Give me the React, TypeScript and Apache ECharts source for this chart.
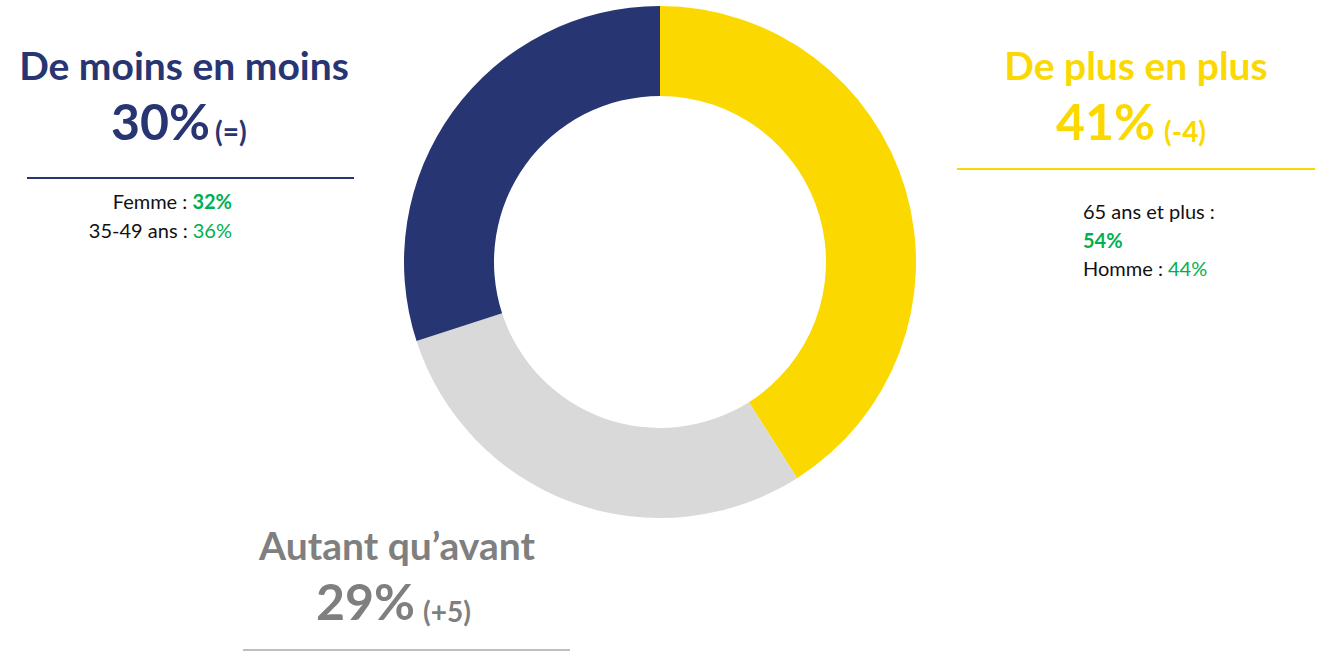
import React, { useEffect, useRef } from "react";
import * as echarts from "echarts";

const categories = ["De plus en plus", "Autant qu’avant", "De moins en moins"];
const values = [41, 29, 30];
const deltas = ["(-4)", "(+5)", "(=)"];
const sliceColors = ["#FBD900", "#D9D9D9", "#283573"];
const titleColors = ["#FBD900", "#7F7F7F", "#283573"];
const ruleColors = ["#FBD900", "#BFBFBF", "#283573"];
const leftDetails = [
  { label: "Femme : ", value: "32%", bold: true },
  { label: "35-49 ans : ", value: "36%", bold: false },
];
const rightDetails = ["65 ans et plus :", "{gb|54%}", "Homme : {g|44%}"];

const FONT = "Lato, 'Open Sans', sans-serif";

// layout per category: title center x, title y, pct right x, pct y, delta left x, rule
const layout = [
  { cx: 1136, ty: 65, px: 1155, py: 121, dx: 1164, dy: 131, rule: [957, 1315, 169] },
  { cx: 397, ty: 545, px: 415, py: 601, dx: 423, dy: 611, rule: [243, 570, 650] },
  { cx: 184, ty: 65, px: 210, py: 121, dx: 215, dy: 131, rule: [27, 354, 178] },
];

export default function App() {
  const ref = useRef<HTMLDivElement>(null);
  useEffect(() => {
    if (!ref.current) return;
    const chart = echarts.init(ref.current, null, { renderer: "svg" });
    const graphics: any[] = [];
    categories.forEach((c, i) => {
      const L = layout[i];
      graphics.push({
        type: "text",
        x: L.cx,
        y: L.ty,
        style: { text: c, fill: titleColors[i], font: `bold 39px ${FONT}`, align: "center", verticalAlign: "middle" },
      });
      graphics.push({
        type: "text",
        x: L.px,
        y: L.py,
        style: { text: values[i] + "%", fill: titleColors[i], font: `bold 50px ${FONT}`, align: "right", verticalAlign: "middle" },
      });
      graphics.push({
        type: "text",
        x: L.dx,
        y: L.dy,
        style: { text: deltas[i], fill: titleColors[i], font: `bold 28px ${FONT}`, align: "left", verticalAlign: "middle" },
      });
      graphics.push({
        type: "line",
        shape: { x1: L.rule[0], y1: L.rule[2], x2: L.rule[1], y2: L.rule[2] },
        style: { stroke: ruleColors[i], lineWidth: 2 },
      });
    });
    leftDetails.forEach((d, i) => {
      graphics.push({
        type: "text",
        x: 232,
        y: 201 + i * 29,
        style: {
          text: d.label + (d.bold ? "{gb|" + d.value + "}" : "{g|" + d.value + "}"),
          fill: "#111111",
          font: `20px ${FONT}`,
          align: "right",
          verticalAlign: "middle",
          rich: {
            g: { fill: "#00B050", font: `20px ${FONT}` },
            gb: { fill: "#00B050", font: `bold 20px ${FONT}` },
          },
        },
      });
    });
    rightDetails.forEach((t, i) => {
      graphics.push({
        type: "text",
        x: 1083,
        y: 211 + i * 28.5,
        style: {
          text: t,
          fill: "#111111",
          font: `20px ${FONT}`,
          align: "left",
          verticalAlign: "middle",
          rich: {
            g: { fill: "#00B050", font: `20px ${FONT}` },
            gb: { fill: "#00B050", font: `bold 20px ${FONT}` },
          },
        },
      });
    });

    chart.setOption({
      animation: false,
      series: [
        {
          type: "pie",
          center: [660, 262],
          radius: [166, 256],
          startAngle: 90,
          clockwise: true,
          silent: true,
          label: { show: false },
          labelLine: { show: false },
          itemStyle: { borderWidth: 0 },
          data: categories.map((c, i) => ({ name: c, value: values[i], itemStyle: { color: sliceColors[i] } })),
        },
      ],
      graphic: graphics,
    });
    return () => chart.dispose();
  }, []);
  return <div ref={ref} style={{ position: "absolute", left: 0, top: 0, width: 1319, height: 656, background: "#fff" }} />;
}
